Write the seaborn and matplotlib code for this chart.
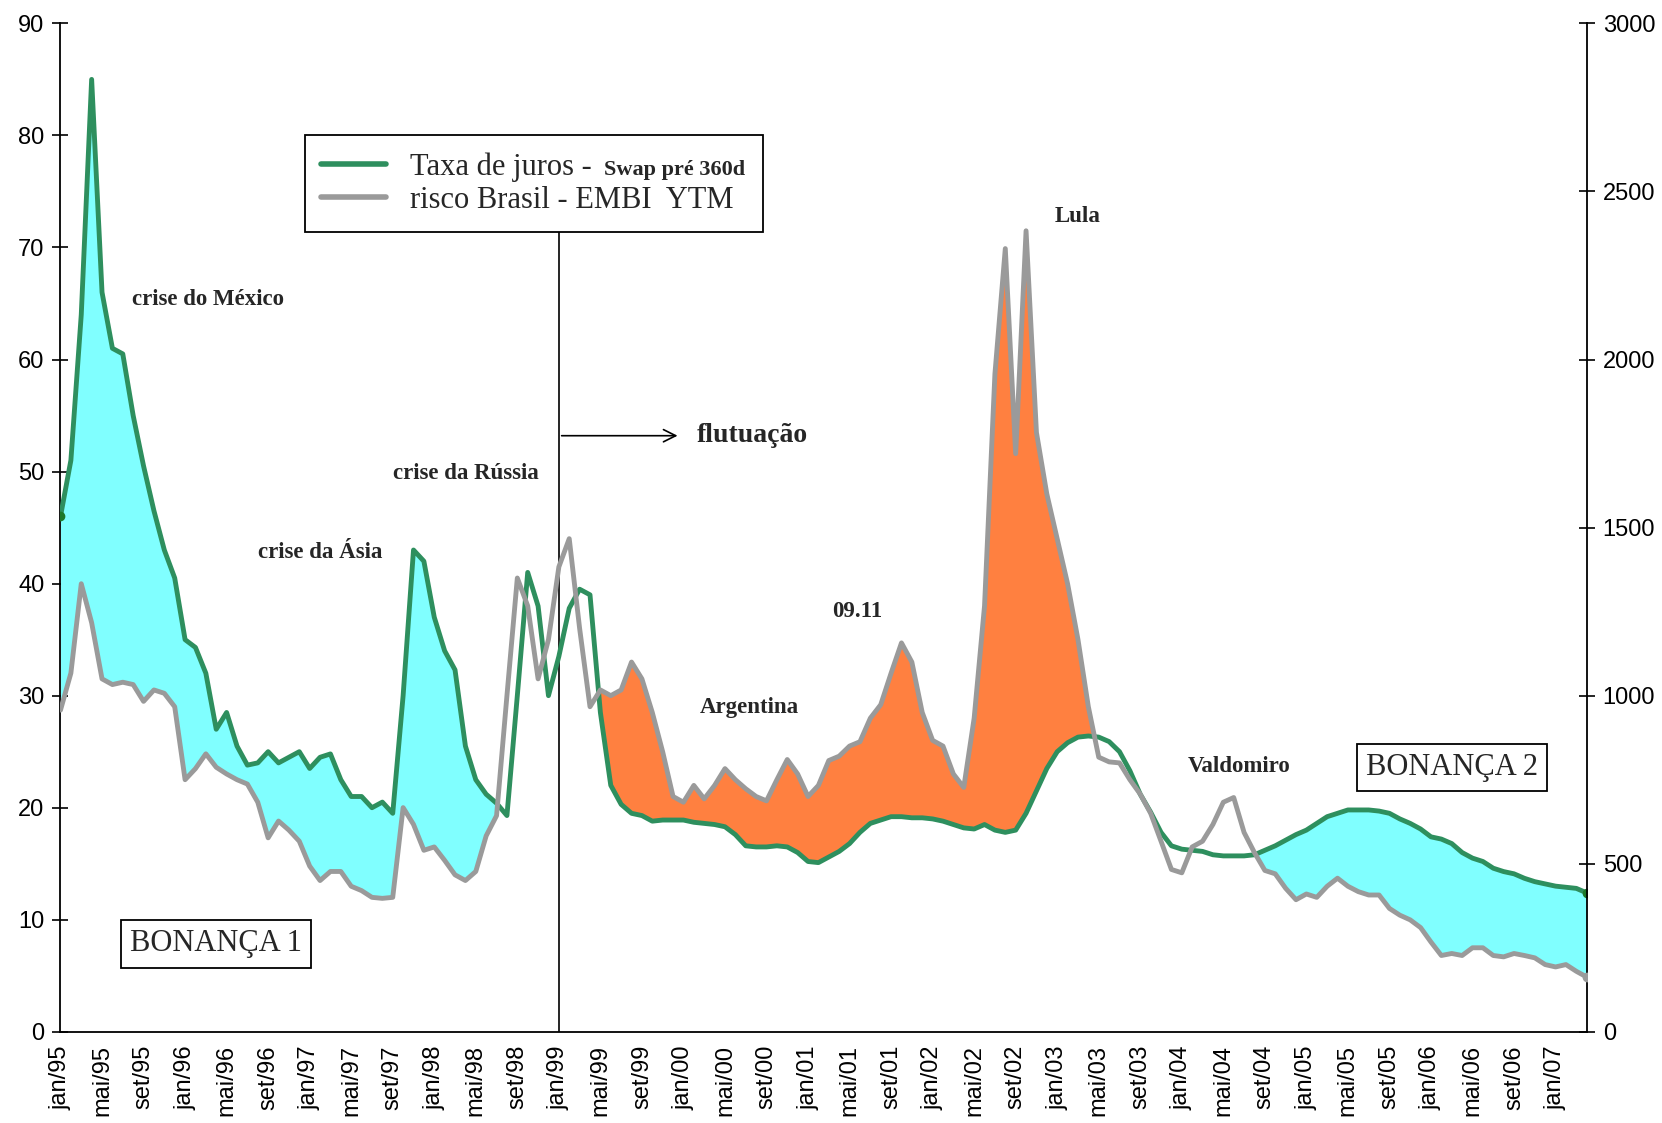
import pandas as pd
import matplotlib
matplotlib.use('Agg')
import matplotlib.pyplot as plt
import seaborn as sns

# meses em portugues para os rotulos do eixo x
meses = ['jan', 'fev', 'mar', 'abr', 'mai', 'jun', 'jul', 'ago', 'set', 'out', 'nov', 'dez']
ano_inicial = 1995

# Taxa de juros - Swap pre 360d (% a.a.), mensal de jan/95 a abr/07
swap_360d = [46, 51, 64, 85, 66, 61, 60.5, 55, 50.5, 46.5, 43, 40.5,
             35, 34.3, 32, 27, 28.5, 25.5, 23.8, 24, 25, 24, 24.5, 25,
             23.5, 24.5, 24.8, 22.5, 21, 21, 20, 20.5, 19.5, 30, 43, 42,
             37, 34, 32.3, 25.5, 22.5, 21.2, 20.4, 19.3, 30, 41, 38, 30,
             33.5, 37.8, 39.5, 39, 28.5, 22, 20.3, 19.5, 19.3, 18.8, 18.9, 18.9,
             18.9, 18.7, 18.6, 18.5, 18.3, 17.6, 16.6, 16.5, 16.5, 16.6, 16.5, 16,
             15.2, 15.1, 15.6, 16.1, 16.8, 17.8, 18.6, 18.9, 19.2, 19.2, 19.1, 19.1,
             19, 18.8, 18.5, 18.2, 18.1, 18.5, 18, 17.8, 18, 19.5, 21.5, 23.5,
             25, 25.8, 26.3, 26.4, 26.3, 25.9, 25, 23.3, 21.2, 19.6, 17.8, 16.6,
             16.3, 16.2, 16.1, 15.8, 15.7, 15.7, 15.7, 15.8, 16.2, 16.6, 17.1, 17.6,
             18, 18.6, 19.2, 19.5, 19.8, 19.8, 19.8, 19.7, 19.5, 19, 18.6, 18.1,
             17.4, 17.2, 16.8, 16, 15.5, 15.2, 14.6, 14.3, 14.1, 13.7, 13.4, 13.2,
             13, 12.9, 12.8, 12.4]

# risco Brasil - EMBI YTM (pontos-base)
embi_ytm = [957, 1067, 1333, 1217, 1050, 1033, 1040, 1033, 983, 1017, 1007, 967,
            750, 783, 827, 787, 767, 750, 737, 683, 577, 627, 600, 567,
            493, 450, 477, 477, 433, 420, 400, 397, 400, 667, 617, 540,
            550, 510, 467, 450, 477, 583, 643, 1000, 1350, 1267, 1050, 1167,
            1383, 1467, 1200, 967, 1017, 1000, 1017, 1100, 1050, 950, 833, 700,
            683, 733, 693, 733, 783, 750, 723, 700, 687, 750, 810, 767,
            700, 733, 807, 820, 850, 863, 933, 973, 1067, 1157, 1100, 950,
            867, 850, 767, 727, 933, 1267, 1957, 2330, 1720, 2383, 1783, 1600,
            1467, 1333, 1167, 967, 817, 803, 800, 750, 707, 650, 567, 483,
            473, 550, 567, 617, 683, 697, 593, 533, 480, 470, 427, 393,
            410, 400, 433, 457, 433, 417, 407, 407, 367, 347, 333, 310,
            267, 227, 233, 227, 250, 250, 227, 223, 233, 227, 220, 200,
            193, 200, 180, 163]

verde = '#2e8f5e'
cinza = '#9a9a9a'
ciano = '#80ffff'
laranja = '#ff8040'

df = pd.DataFrame({'swap': swap_360d, 'embi': embi_ytm})
df['mes'] = range(len(df))
df['rotulo'] = [f"{meses[i % 12]}/{str(ano_inicial + i // 12)[2:]}" for i in df['mes']]

sns.set_style('white')
plt.rcParams['font.family'] = ['Liberation Sans', 'DejaVu Sans']

fig = plt.figure(figsize=(16.62, 11.23), dpi=100)
ax = fig.add_axes([0.0364, 0.0812, 0.9183, 0.898])
ax2 = ax.twinx()

escala = 3000 / 90
embi_esq = df['embi'] / escala
m = df['mes']

# areas entre as curvas
ax.fill_between(m, df['swap'], embi_esq, where=(m <= 43) & (df['swap'] >= embi_esq),
                interpolate=True, color=ciano, lw=0, zorder=1)
ax.fill_between(m, df['swap'], embi_esq, where=(m >= 51) & (m <= 100) & (embi_esq >= df['swap']),
                interpolate=True, color=laranja, lw=0, zorder=1)
ax.fill_between(m, df['swap'], embi_esq, where=(m >= 110) & (df['swap'] >= embi_esq),
                interpolate=True, color=ciano, lw=0, zorder=1)

sns.lineplot(data=df, x='mes', y='swap', ax=ax, color=verde, lw=3.5, zorder=3)
sns.lineplot(data=df, x='mes', y='embi', ax=ax2, color=cinza, lw=3.5, zorder=3)
ax.plot(m.iloc[[0, -1]], df['swap'].iloc[[0, -1]], 'o', color='#1c7a2a', ms=6, zorder=4)
ax2.plot(m.iloc[[-1]], df['embi'].iloc[[-1]], 'o', color=cinza, ms=6, zorder=4)

ax.set_xlim(0, len(df) - 1)
ax.set_ylim(0, 90)
ax2.set_ylim(0, 3000)
ax.set_yticks(range(0, 91, 10))
ax2.set_yticks(range(0, 3001, 500))
ax.set_xticks(m[::4])
ax.set_xticklabels(df['rotulo'][::4], rotation=90)
ax.set_xlabel('')
ax.set_ylabel('')
ax2.set_ylabel('')

for a in (ax, ax2):
    a.tick_params(direction='inout', length=11, width=1.2, colors='black', labelsize=17)
    a.tick_params(axis='y', pad=6)
    a.spines['top'].set_visible(False)
ax.spines['right'].set_visible(False)
ax2.spines['left'].set_visible(False)
ax2.spines['bottom'].set_visible(False)
for nome in ('left', 'bottom'):
    ax.spines[nome].set_color('black')
    ax.spines[nome].set_linewidth(1.3)
ax2.spines['right'].set_color('black')
ax2.spines['right'].set_linewidth(1.3)
ax.tick_params(axis='x', pad=4)

# fim do regime de bandas cambiais
mes_flutuacao = df.index[df['rotulo'] == 'jan/99'][0]
ax.axvline(mes_flutuacao, ymin=0, ymax=71.4 / 90, color='black', lw=1.2, zorder=2)
ax.annotate('', xy=(mes_flutuacao + 11.7, 53.2), xytext=(mes_flutuacao, 53.2),
            arrowprops=dict(arrowstyle='->', lw=1.2, color='black', mutation_scale=22))
ax.text(mes_flutuacao + 13.3, 53.2, 'flutuação', fontsize=20, fontweight='bold',
        family='Liberation Serif', va='center', ha='left')

anotacoes = [('crise do México', 14.2, 65.4), ('crise da Ásia', 25, 42.8),
             ('crise da Rússia', 39, 49.8), ('Argentina', 66.3, 28.9),
             ('09.11', 76.7, 37.5), ('Lula', 98, 72.8), ('Valdomiro', 113.5, 23.7)]
for texto, x, y in anotacoes:
    ax.text(x, y, texto, fontsize=16.5, fontweight='bold', family='Liberation Serif',
            ha='center', va='center')

caixa = dict(boxstyle='square,pad=0.3', fc='white', ec='black', lw=1.3)
ax.text(15, 7.85, 'BONANÇA 1', fontsize=22, family='Liberation Serif',
        ha='center', va='center', bbox=caixa)
ax.text(134, 23.6, 'BONANÇA 2', fontsize=22, family='Liberation Serif',
        ha='center', va='center', bbox=caixa)

linhas = [plt.Line2D([], [], color=verde, lw=4), plt.Line2D([], [], color=cinza, lw=4)]
leg = ax.legend(linhas, ['Taxa de juros -', 'risco Brasil - EMBI  YTM'],
                loc='upper left', bbox_to_anchor=(0.16, 0.794, 0.30, 0.095), mode='expand',
                prop={'family': 'Liberation Serif', 'size': 22}, frameon=True, fancybox=False,
                framealpha=1, edgecolor='black', handlelength=2.1, handletextpad=0.8,
                borderpad=0.55, labelspacing=0.15, borderaxespad=0)
leg.get_frame().set_linewidth(1.3)
leg.set_zorder(6)
ax.text(0.356, 0.855, 'Swap pré 360d', transform=ax.transAxes, fontsize=16,
        fontweight='bold', family='Liberation Serif', va='center', ha='left', zorder=7)

fig.savefig('out.png', dpi=100, facecolor='white')
